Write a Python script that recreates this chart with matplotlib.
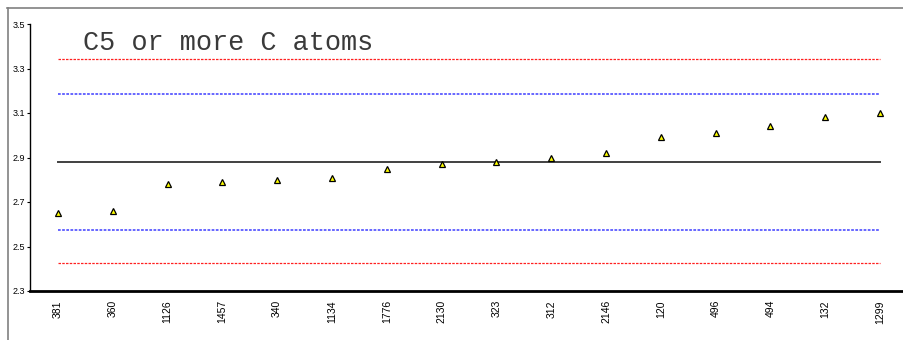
import matplotlib
matplotlib.use("Agg")
import matplotlib.pyplot as plt
from matplotlib.lines import Line2D

# Sample identifiers and measured values
labels = ["381", "360", "1126", "1457", "340", "1134", "1776", "2130",
          "323", "312", "2146", "120", "496", "494", "132", "1299"]
values = [2.65, 2.66, 2.78, 2.79, 2.80, 2.81, 2.85, 2.87,
          2.88, 2.90, 2.92, 2.99, 3.01, 3.04, 3.08, 3.10]

# Reference levels: mean, inner limits, outer limits
mean_level = 2.88
inner_limits = [3.187, 2.574]
outer_limits = [3.341, 2.424]

yticks = [2.3, 2.5, 2.7, 2.9, 3.1, 3.3, 3.5]

W, H = 904, 340
fig = plt.figure(figsize=(W / 100, H / 100), dpi=100)

x = list(range(len(labels)))
ax_left = 30.5 / W
ax_right = 907.5 / W
ax_bottom = (H - 291) / H
ax_top = (H - 24) / H
ax = fig.add_axes([ax_left, ax_bottom, ax_right - ax_left, ax_top - ax_bottom])
ax.set_xlim(-0.5, len(labels) - 0.5)
ax.set_ylim(2.3, 3.5)

x0, x1 = x[0], x[-1]
for lv in outer_limits:
    ax.plot([x0, x1], [lv, lv], color="#ff2020", lw=0.9, ls=(0, (2, 1)), zorder=2)
for lv in inner_limits:
    ax.plot([x0, x1], [lv, lv], color="#5a5aff", lw=1.3, ls=(0, (1.5, 0.8)), zorder=2)
ax.plot([x0, x1], [mean_level, mean_level], color="#404040", lw=1.4, zorder=2)

ax.plot(x, values, ls="none", marker="^", ms=5.0, mfc="#ffff00", mec="black",
        mew=0.9, zorder=3)

for s in ["top", "right"]:
    ax.spines[s].set_visible(False)
ax.spines["left"].set_linewidth(1.0)
ax.spines["bottom"].set_linewidth(2.0)

ax.set_yticks(yticks)
ax.set_yticklabels([f"{t:.1f}" for t in yticks], fontfamily="Liberation Sans",
                   fontsize=6.5)
ax.tick_params(axis="y", length=2.5, width=0.8, pad=1.5)
ax.set_xticks(x)
ax.set_xticklabels(labels, rotation=90, fontfamily="Liberation Sans", fontsize=7.5,
                   va="top")
ax.tick_params(axis="x", length=0, pad=6.5)

fig.text(83 / W, 1 - 43 / H, "C5 or more C atoms", fontfamily="Liberation Mono",
         fontsize=19.4, ha="left", va="center", color="#3a3a3a")

# Frame around the chart area
fig.add_artist(Line2D([7 / W, 1], [1 - 7.5 / H, 1 - 7.5 / H], color="#808080", lw=1.2))
fig.add_artist(Line2D([7.5 / W, 7.5 / W], [0, 1 - 7.5 / H], color="#808080", lw=1.2))

fig.savefig("out.png", dpi=100)
